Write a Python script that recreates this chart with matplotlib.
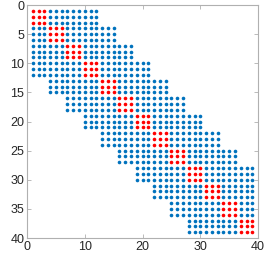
import numpy as np
import matplotlib.pyplot as plt

plt.rcParams['font.family'] = ['Liberation Sans', 'DejaVu Sans']
plt.rcParams['font.size'] = 9
plt.rcParams['xtick.direction'] = 'in'
plt.rcParams['ytick.direction'] = 'in'
plt.rcParams['xtick.top'] = True
plt.rcParams['ytick.right'] = True

# block structure: 13 block rows of 3x3 blocks
block_size = 3
n_blocks = 13
# first and last block column that is filled in each block row
first_block = [0, 0, 0, 0, 1, 2, 3, 4, 5, 6, 7, 8, 9]
last_block = [3, 4, 5, 6, 7, 8, 9, 10, 11, 12, 12, 12, 12]
xticks = [0, 10, 20, 30, 40]
yticks = [0, 5, 10, 15, 20, 25, 30, 35, 40]

n = n_blocks * block_size
mat = np.zeros((n, n), dtype=int)
for b in range(n_blocks):
    rows = slice(b * block_size, (b + 1) * block_size)
    cols = slice(first_block[b] * block_size, (last_block[b] + 1) * block_size)
    mat[rows, cols] = 1
    mat[rows, b * block_size:(b + 1) * block_size] = 2

fig = plt.figure(figsize=(2.69, 2.58), dpi=100)
ax = fig.add_axes([0.1004, 0.0775, 0.859, 0.903])

r, c = np.nonzero(mat == 1)
ax.plot(c + 1, r + 1, 'o', color='#0072BD', markersize=2.6, markeredgewidth=0)
r, c = np.nonzero(mat == 2)
ax.plot(c + 1, r + 1, 'o', color='#FF0000', markersize=2.6, markeredgewidth=0)

ax.set_xlim(0, 40)
ax.set_ylim(40, 0)
ax.set_xticks(xticks)
ax.set_yticks(yticks)
for s in ax.spines.values():
    s.set_color('#b0b0b0')
    s.set_linewidth(0.8)
ax.tick_params(colors='#b0b0b0', labelcolor='#262626', length=3, width=0.6, pad=2)

fig.savefig('out.png', dpi=100)
